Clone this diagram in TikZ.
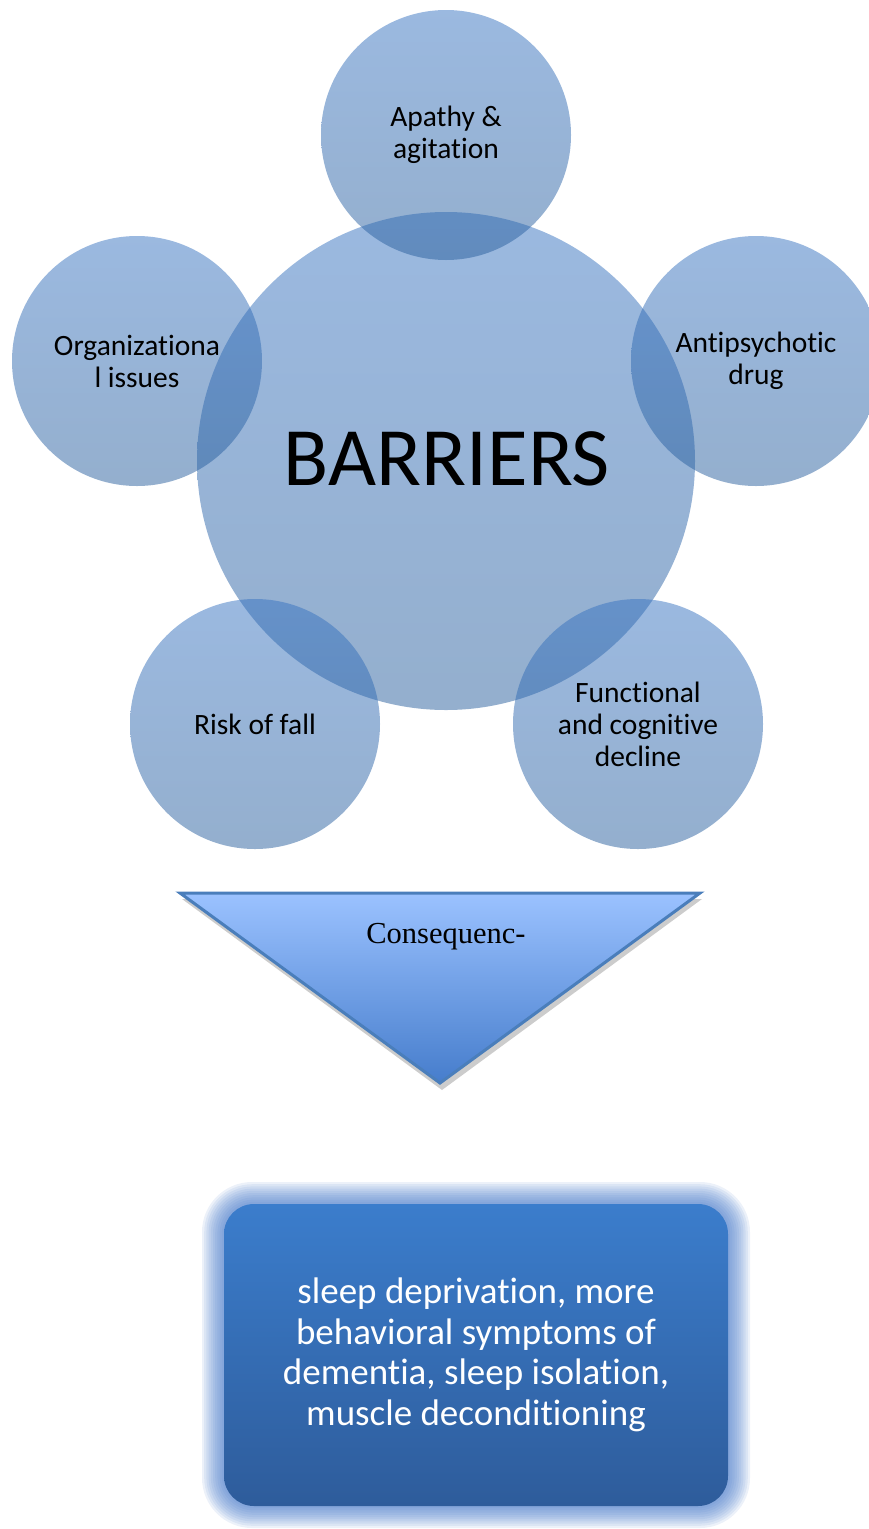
\documentclass[tikz,border=0pt]{standalone}
\usepackage{fontspec}
\setmainfont{Carlito}[Ligatures=NoCommon]
\newfontfamily\timesf{Liberation Serif}
\begin{document}
\begin{tikzpicture}[x=1pt,y=-1pt,
  bub/.style={circle, minimum size=#1, inner sep=0pt, top color={rgb,255:red,55;green,115;blue,193}, bottom color={rgb,255:red,41;green,95;blue,157}, fill opacity=0.5, text opacity=1, align=center, font=\fontsize{29.5}{32}\selectfont},
  glow/.style={rounded corners=#1, fill={rgb,255:red,70;green,120;blue,200}, fill opacity=0.1, draw=none}]
\useasboundingbox (0,0) rectangle (869,1529);
\begin{scope}
\clip (0,0) rectangle (869,1529);
\node[bub=498pt] (big) at (446,461) {};
\node[bub=250pt] (top) at (446,135) {Apathy \&\\agitation};
\node[bub=250pt] (left) at (137,361) {Organizationa\\l issues};
\node[bub=250pt] (right) at (756,361) {Antipsychotic\\drug};
\node[bub=250pt] (bl) at (255,724) {Risk of fall};
\node[bub=250pt] (br) at (638,724) {Functional\\and cognitive\\decline};
\end{scope}
\node[font=\fontsize{83}{100}\selectfont] (lab) at (447,459) {BARRIERS};
% triangle
\fill[gray!40] (182,899) -- (702,899) -- (442,1090) -- cycle;
\draw[line width=3pt, draw={rgb,255:red,74;green,126;blue,187}, top color={rgb,255:red,155;green,194;blue,255}, bottom color={rgb,255:red,70;green,125;blue,204}, line join=miter] (180,893) -- (700,893) -- (440,1083) -- cycle;
\node[font=\timesf\fontsize{30.5}{36}\selectfont] (cons) at (446,937) {Consequenc-};
% glow
\foreach \i in {1,...,10}{
  \fill[glow=30+2*\i] (224-2.2*\i,1204-2.2*\i) rectangle (728+2.2*\i,1506+2.2*\i);
}
\node[rounded corners=30pt, minimum width=504pt, minimum height=302pt, inner sep=0pt,
  top color={rgb,255:red,59;green,125;blue,204}, bottom color={rgb,255:red,46;green,92;blue,155},
  text=white, align=center, font=\fontsize{37}{40.5}\selectfont] (box) at (476,1355)
  {sleep deprivation, more\\behavioral symptoms of\\dementia, sleep isolation,\\muscle deconditioning};
\end{tikzpicture}
\end{document}
